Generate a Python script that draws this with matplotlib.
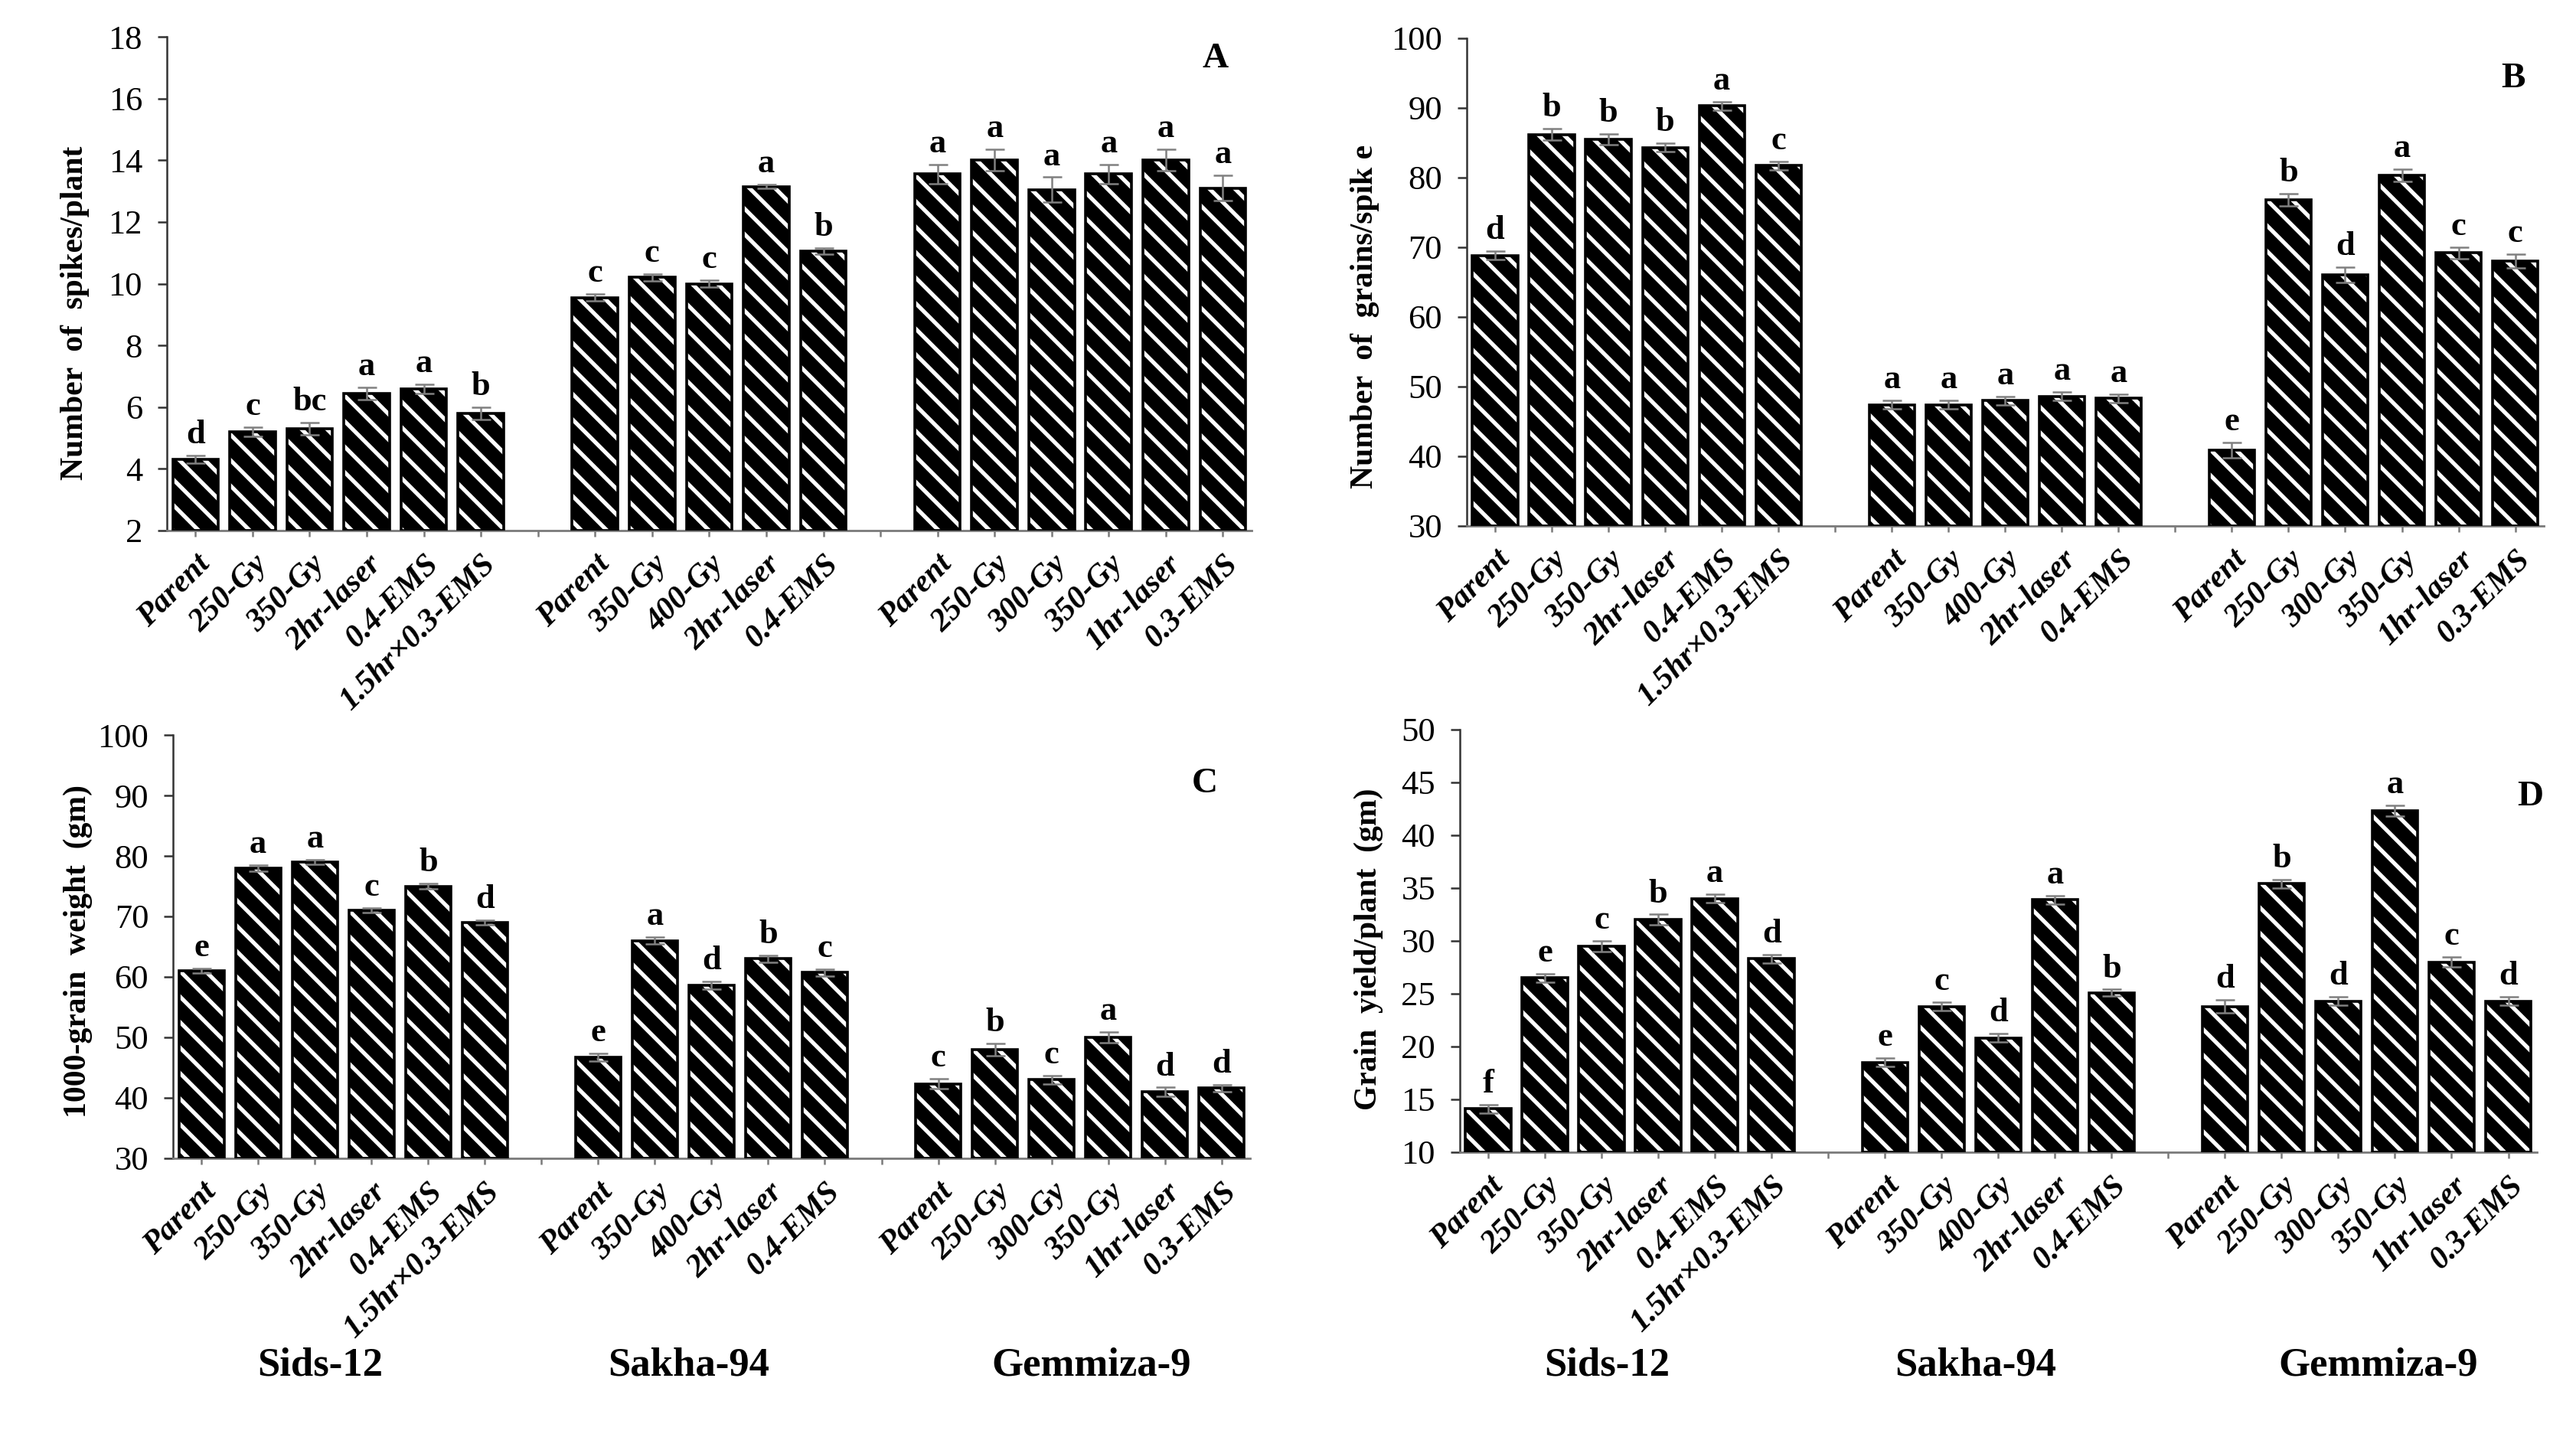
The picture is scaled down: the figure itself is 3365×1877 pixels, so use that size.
import matplotlib
matplotlib.use("Agg")
import matplotlib.pyplot as plt
from matplotlib.transforms import blended_transform_factory

plt.rcParams["font.family"] = ["Liberation Serif", "DejaVu Serif"]
plt.rcParams["hatch.linewidth"] = 1.9

# treatments per cultivar
sids_labels = ["Parent", "250-Gy", "350-Gy", "2hr-laser", "0.4-EMS", "1.5hr×0.3-EMS"]
sakha_labels = ["Parent", "350-Gy", "400-Gy", "2hr-laser", "0.4-EMS"]
gemmiza_labels = ["Parent", "250-Gy", "300-Gy", "350-Gy", "1hr-laser", "0.3-EMS"]
cultivars = ["Sids-12", "Sakha-94", "Gemmiza-9"]
cultivar_label_x = [2.1, 8.6, 15.7]

# A: number of spikes/plant (Sids-12, Sakha-94, Gemmiza-9 in order)
spikes_mean = [4.3, 5.2, 5.3, 6.45, 6.6, 5.8,
               9.55, 10.2, 10.0, 13.15, 11.05,
               13.55, 14.0, 13.05, 13.55, 14.0, 13.1]
spikes_se = [0.12, 0.15, 0.2, 0.2, 0.15, 0.2,
             0.12, 0.12, 0.12, 0.06, 0.1,
             0.3, 0.35, 0.4, 0.3, 0.35, 0.4]
spikes_sig = ["d", "c", "bc", "a", "a", "b",
              "c", "c", "c", "a", "b",
              "a", "a", "a", "a", "a", "a"]

# B: number of grains/spike
grains_mean = [68.8, 86.2, 85.5, 84.3, 90.3, 81.7,
               47.4, 47.4, 48.0, 48.6, 48.3,
               40.9, 76.8, 66.0, 80.3, 69.2, 68.0]
grains_se = [0.6, 0.8, 0.8, 0.6, 0.6, 0.6,
             0.6, 0.6, 0.6, 0.6, 0.6,
             1.1, 0.9, 1.1, 0.9, 0.8, 1.0]
grains_sig = ["d", "b", "b", "b", "a", "c",
              "a", "a", "a", "a", "a",
              "e", "b", "d", "a", "c", "c"]

# C: 1000-grain weight (gm)
weight_mean = [61.0, 78.0, 79.0, 71.0, 75.0, 69.0,
               46.7, 66.0, 58.6, 63.0, 60.7,
               42.3, 48.0, 43.0, 50.0, 41.0, 41.6]
weight_se = [0.4, 0.5, 0.4, 0.4, 0.5, 0.4,
             0.6, 0.6, 0.6, 0.6, 0.6,
             0.8, 1.0, 0.7, 0.9, 0.7, 0.6]
weight_sig = ["e", "a", "a", "c", "b", "d",
              "e", "a", "d", "b", "c",
              "c", "b", "c", "a", "d", "d"]

# D: grain yield/plant (gm)
yield_mean = [14.1, 26.5, 29.5, 32.0, 34.0, 28.3,
              18.5, 23.8, 20.8, 33.9, 25.1,
              23.8, 35.4, 24.3, 42.3, 28.0, 24.3]
yield_se = [0.4, 0.4, 0.5, 0.5, 0.4, 0.4,
            0.4, 0.4, 0.4, 0.4, 0.3,
            0.6, 0.4, 0.4, 0.5, 0.5, 0.4]
yield_sig = ["f", "e", "c", "b", "a", "d",
             "e", "c", "d", "a", "b",
             "d", "b", "d", "a", "c", "d"]

# slot positions with one empty slot between cultivars
x_pos = []
tick_labels = []
start = 0
for group in (sids_labels, sakha_labels, gemmiza_labels):
    x_pos += list(range(start, start + len(group)))
    tick_labels += group + [""]
    start += len(group) + 1
tick_labels = tick_labels[:-1]
n_slots = len(tick_labels)

panels = [
    dict(mean=spikes_mean, se=spikes_se, sig=spikes_sig,
         ylabel="Number  of  spikes/plant", yticks=range(2, 19, 2),
         rect=[0.0648, 0.6308, 0.421, 0.3436], tag="A", tag_xy=(0.967, 0.955),
         label_xy=(-0.071, 0.44), bottom_row=False),
    dict(mean=grains_mean, se=grains_se, sig=grains_sig,
         ylabel="Number  of  grains/spik e", yticks=range(30, 101, 10),
         rect=[0.5694, 0.634, 0.418, 0.3394], tag="B", tag_xy=(0.972, 0.917),
         label_xy=(-0.081, 0.43), bottom_row=False),
    dict(mean=weight_mean, se=weight_se, sig=weight_sig,
         ylabel="1000-grain  weight  (gm)", yticks=range(30, 101, 10),
         rect=[0.0672, 0.194, 0.418, 0.2945], tag="C", tag_xy=(0.958, 0.884),
         label_xy=(-0.075, 0.49), bottom_row=True),
    dict(mean=yield_mean, se=yield_se, sig=yield_sig,
         ylabel="Grain  yield/plant  (gm)", yticks=range(10, 51, 5),
         rect=[0.5667, 0.1982, 0.418, 0.2941], tag="D", tag_xy=(0.994, 0.84),
         label_xy=(-0.071, 0.48), bottom_row=True),
]

fig = plt.figure(figsize=(3365 / 200, 1877 / 200), dpi=200)

for p in panels:
    ax = fig.add_axes(p["rect"])
    ymin, ymax = p["yticks"][0], p["yticks"][-1]
    heights = [m - ymin for m in p["mean"]]
    ax.bar(x_pos, heights, bottom=ymin, width=0.8, color="black",
           edgecolor="white", hatch="\\\\", linewidth=0, zorder=2)
    ax.bar(x_pos, heights, bottom=ymin, width=0.8, fill=False,
           edgecolor="black", linewidth=1.3, zorder=3)
    ax.errorbar(x_pos, p["mean"], yerr=p["se"], fmt="none", ecolor="#808080",
                elinewidth=0.9, capsize=4.5, capthick=0.9, zorder=4)
    for xi, m, s, t in zip(x_pos, p["mean"], p["se"], p["sig"]):
        ax.annotate(t, (xi, m + s), xytext=(0, 2.5), textcoords="offset points",
                    ha="center", va="bottom", fontsize=16, fontweight="bold")

    ax.set_xlim(-0.5, n_slots - 0.5)
    ax.set_ylim(ymin, ymax)
    ax.set_yticks(list(p["yticks"]))
    ax.set_xticks(range(n_slots))
    ax.set_xticklabels(tick_labels, rotation=45, ha="right", va="top",
                       rotation_mode="anchor", fontsize=15,
                       fontweight="bold", fontstyle="italic")
    for side in ("top", "right"):
        ax.spines[side].set_visible(False)
    ax.spines["left"].set_color("#333333")
    ax.spines["left"].set_linewidth(0.9)
    ax.spines["bottom"].set_color("#7a7a7a")
    ax.spines["bottom"].set_linewidth(1.0)
    ax.tick_params(axis="y", direction="out", length=4.5, width=0.9,
                   color="#333333", labelsize=16, pad=7)
    ax.tick_params(axis="x", direction="out", length=3, width=0.9,
                   color="#7a7a7a", pad=6)

    ax.set_ylabel(p["ylabel"], fontsize=15, fontweight="bold")
    ax.yaxis.set_label_coords(*p["label_xy"])
    ax.text(*p["tag_xy"], p["tag"], transform=ax.transAxes, ha="center",
            va="center", fontsize=17, fontweight="bold")

    if p["bottom_row"]:
        trans = blended_transform_factory(ax.transData, fig.transFigure)
        for gx, name in zip(cultivar_label_x, cultivars):
            ax.text(gx, 0.05, name, transform=trans, ha="center", va="center",
                    fontsize=19, fontweight="bold")

fig.savefig("out.png", dpi=200, facecolor="white")
